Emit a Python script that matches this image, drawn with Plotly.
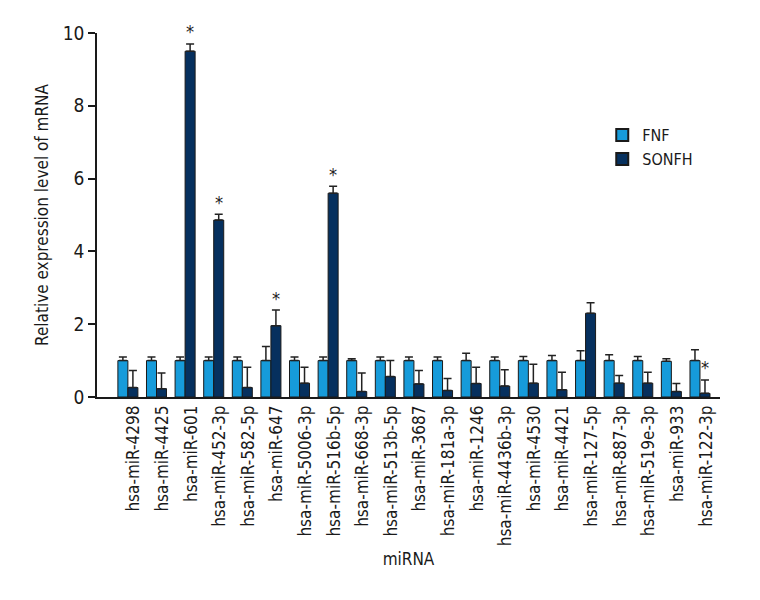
import plotly.graph_objects as go

categories = ["hsa-miR-4298", "hsa-miR-4425", "hsa-miR-601", "hsa-miR-452-3p", "hsa-miR-582-5p",
              "hsa-miR-647", "hsa-miR-5006-3p", "hsa-miR-516b-5p", "hsa-miR-668-3p", "hsa-miR-513b-5p",
              "hsa-miR-3687", "hsa-miR-181a-3p", "hsa-miR-1246", "hsa-miR-4436b-3p", "hsa-miR-4530",
              "hsa-miR-4421", "hsa-miR-127-5p", "hsa-miR-887-3p", "hsa-miR-519e-3p", "hsa-miR-933",
              "hsa-miR-122-3p"]

fnf_values = [1.0, 1.0, 1.0, 1.0, 1.0, 1.0, 1.0, 1.0, 1.0, 1.0, 1.0,
              1.0, 1.0, 1.0, 1.0, 1.0, 1.0, 1.0, 1.0, 0.98, 1.0]
fnf_errors = [0.1, 0.1, 0.1, 0.1, 0.1, 0.39, 0.1, 0.1, 0.05, 0.1, 0.1,
              0.1, 0.2, 0.1, 0.11, 0.14, 0.27, 0.16, 0.11, 0.07, 0.3]

sonfh_values = [0.26, 0.23, 9.5, 4.86, 0.26, 1.96, 0.38, 5.6, 0.15, 0.56, 0.36,
                0.18, 0.37, 0.3, 0.38, 0.2, 2.3, 0.38, 0.38, 0.15, 0.1]
sonfh_errors = [0.47, 0.43, 0.2, 0.16, 0.56, 0.43, 0.44, 0.19, 0.51, 0.44, 0.37,
                0.33, 0.45, 0.45, 0.52, 0.48, 0.29, 0.21, 0.3, 0.22, 0.37]

significant = ["hsa-miR-601", "hsa-miR-452-3p", "hsa-miR-647", "hsa-miR-516b-5p", "hsa-miR-122-3p"]

FONT = "Liberation Sans Narrow, DejaVu Sans Condensed, Arial Narrow, sans-serif"

fig = go.Figure()
fig.add_trace(go.Bar(
    name="FNF", x=categories, y=fnf_values,
    marker=dict(color="#169BDA", line=dict(color="#1a1a1a", width=1)),
    error_y=dict(type="data", symmetric=False, array=fnf_errors,
                 arrayminus=[0] * len(fnf_errors), color="#222222", thickness=1.5, width=4),
))
fig.add_trace(go.Bar(
    name="SONFH", x=categories, y=sonfh_values,
    marker=dict(color="#06305E", line=dict(color="#1a1a1a", width=1)),
    error_y=dict(type="data", symmetric=False, array=sonfh_errors,
                 arrayminus=[0] * len(sonfh_errors), color="#222222", thickness=1.5, width=4),
))

for cat in significant:
    i = categories.index(cat)
    fig.add_annotation(x=cat, y=sonfh_values[i] + sonfh_errors[i], text="*",
                       showarrow=False, xshift=5, yshift=12,
                       font=dict(size=18, color="#222222", family=FONT))

fig.update_layout(
    width=760, height=600,
    paper_bgcolor="white", plot_bgcolor="white",
    margin=dict(l=89, r=48, t=25, b=211),
    barmode="group", bargap=0.3, bargroupgap=0,
    font=dict(family=FONT, size=15, color="#1a1a1a"),
    showlegend=True,
    legend=dict(x=0.811, y=0.766, xanchor="left", yanchor="top",
                font=dict(size=16, family=FONT), bgcolor="rgba(0,0,0,0)",
                itemsizing="constant", tracegroupgap=0),
    xaxis=dict(
        range=[-1.08, 20.7], showline=True, linecolor="#1a1a1a", linewidth=1.5,
        ticks="", tickangle=-90, showgrid=False, zeroline=False,
        tickfont=dict(size=17, family=FONT), ticklabelshift=6,
        title=dict(text="miRNA", font=dict(size=17, family=FONT), standoff=8),
    ),
    yaxis=dict(
        range=[0, 10], tickvals=[0, 2, 4, 6, 8, 10], showline=True, linecolor="#1a1a1a",
        linewidth=1.5, ticks="outside", ticklen=7, tickwidth=1.5, tickcolor="#1a1a1a",
        showgrid=False, zeroline=False, tickfont=dict(size=19, family=FONT),
        title=dict(text="Relative expression level of mRNA", font=dict(size=17, family=FONT), standoff=10),
    ),
)

fig.write_html("out.html")
